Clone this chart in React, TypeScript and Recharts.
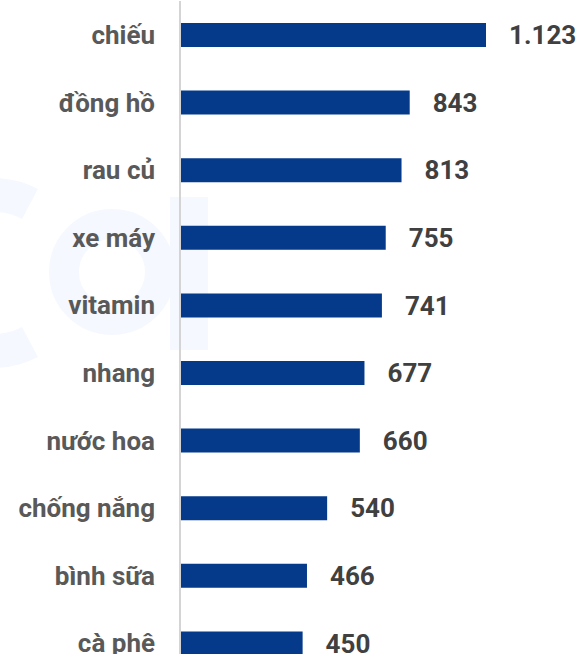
import { Bar, BarChart, LabelList, XAxis, YAxis } from 'recharts';

const categories = [
    'chiếu',
    'đồng hồ',
    'rau củ',
    'xe máy',
    'vitamin',
    'nhang',
    'nước hoa',
    'chống nắng',
    'bình sữa',
    'cà phê',
];
const values = [1123, 843, 813, 755, 741, 677, 660, 540, 466, 450];

const data = categories.map((name, i) => ({ name, value: values[i] }));

const formatValue = (v: number) => v.toLocaleString('de-DE');

// faint logo watermark behind the chart
function Watermark() {
    return (
        <svg
            width={230}
            height={380}
            style={{ position: 'absolute', left: 0, top: 0 }}
        >
            <path
                d="M 30 204 A 78 78 0 1 0 30 342"
                fill="none"
                stroke="#f5f8fe"
                strokeWidth={34}
            />
            <circle
                cx={112}
                cy={272}
                r={48}
                fill="none"
                stroke="#f5f8fe"
                strokeWidth={30}
            />
            <rect x={170} y={197} width={38} height={153} fill="#f5f8fe" />
        </svg>
    );
}

export default function App() {
    return (
        <div
            style={{
                position: 'absolute',
                left: 0,
                top: 0,
                width: 580,
                height: 654,
                overflow: 'hidden',
                background: '#fff',
                fontFamily: 'Roboto, sans-serif',
            }}
        >
            <Watermark />
            <div style={{ position: 'absolute', left: 0, top: 0 }}>
                <BarChart
                    width={580}
                    height={680}
                    data={data}
                    layout="vertical"
                    margin={{ top: 1, right: 94, bottom: 3, left: 0 }}
                >
                    <XAxis type="number" hide domain={[0, 'dataMax']} />
                    <YAxis
                        type="category"
                        dataKey="name"
                        width={180}
                        tickLine={false}
                        tickSize={0}
                        tickMargin={25}
                        axisLine={{ stroke: '#d4d4d4', strokeWidth: 2 }}
                        tick={{
                            fill: '#595959',
                            fontSize: 26,
                            fontWeight: 700,
                        }}
                    />
                    <Bar
                        dataKey="value"
                        fill="#053a8b"
                        barSize={24}
                        isAnimationActive={false}
                    >
                        <LabelList
                            dataKey="value"
                            position="right"
                            offset={23}
                            formatter={formatValue}
                            fill="#404040"
                            fontSize={26}
                            fontWeight={700}
                        />
                    </Bar>
                </BarChart>
            </div>
        </div>
    );
}
